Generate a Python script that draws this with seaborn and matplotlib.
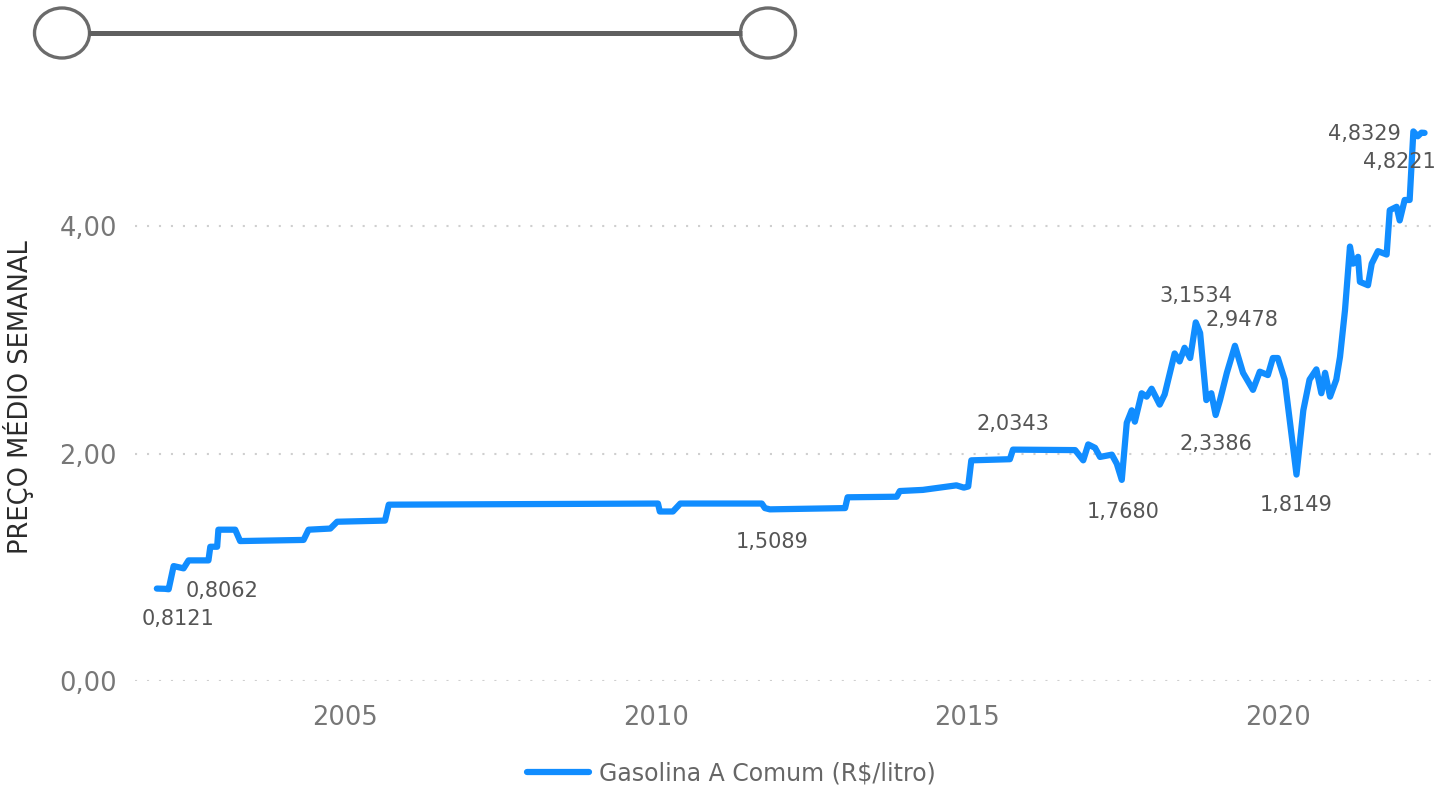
import pandas as pd
import seaborn as sns
import matplotlib.pyplot as plt
from matplotlib.patches import Ellipse

# Weekly average price of "Gasolina A Comum" (decimal year, R$/litro)
years = [
    2001.97, 2002.10, 2002.16, 2002.24, 2002.40, 2002.48, 2002.80, 2002.83, 2002.94,
    2002.96, 2003.23, 2003.31, 2004.33, 2004.41, 2004.76, 2004.87, 2005.64, 2005.70,
    2010.03, 2010.06, 2010.27, 2010.39, 2011.70, 2011.75, 2011.83, 2013.04, 2013.08,
    2013.87, 2013.92, 2014.29, 2014.83, 2014.95, 2015.02, 2015.07, 2015.69, 2015.74,
    2016.74, 2016.87, 2016.95, 2017.06, 2017.14, 2017.33, 2017.41, 2017.49,
    2017.57, 2017.65, 2017.70, 2017.81, 2017.89, 2017.97,
    2018.10, 2018.18, 2018.34, 2018.42, 2018.50, 2018.59, 2018.68, 2018.75, 2018.85, 2018.93,
    2019.00, 2019.07, 2019.18, 2019.31, 2019.44, 2019.60, 2019.71, 2019.84, 2019.92,
    2020.00, 2020.11, 2020.30, 2020.41, 2020.51, 2020.62, 2020.70, 2020.76, 2020.84, 2020.94,
    2021.00, 2021.08, 2021.16, 2021.21, 2021.29, 2021.32, 2021.45, 2021.51, 2021.61,
    2021.75, 2021.80, 2021.91, 2021.96,
    2022.04, 2022.12, 2022.18, 2022.25, 2022.31, 2022.36,
]
prices = [
    0.8121, 0.81, 0.8062, 1.01, 0.99, 1.06, 1.06, 1.18, 1.18,
    1.33, 1.33, 1.23, 1.24, 1.33, 1.34, 1.40, 1.41, 1.55,
    1.56, 1.49, 1.49, 1.56, 1.56, 1.52, 1.5089, 1.52, 1.615,
    1.62, 1.67, 1.68, 1.72, 1.70, 1.71, 1.94, 1.95, 2.0343,
    2.03, 1.94, 2.08, 2.05, 1.97, 1.99, 1.91, 1.7680,
    2.27, 2.38, 2.28, 2.53, 2.50, 2.57,
    2.43, 2.52, 2.88, 2.81, 2.93, 2.84, 3.1534, 3.06, 2.47, 2.53,
    2.3386, 2.47, 2.71, 2.9478, 2.71, 2.56, 2.72, 2.69, 2.84,
    2.84, 2.65, 1.8149, 2.38, 2.65, 2.74, 2.53, 2.71, 2.50, 2.65,
    2.85, 3.26, 3.82, 3.67, 3.73, 3.51, 3.48, 3.67, 3.78,
    3.75, 4.14, 4.17, 4.05,
    4.23, 4.23, 4.8329, 4.79, 4.8221, 4.82,
]

# data labels shown on the line, and where each one sits relative to its point (pixels)
label_values = [0.8121, 0.8062, 1.5089, 2.0343, 1.7680, 3.1534, 2.9478, 2.3386, 1.8149, 4.8329, 4.8221]
label_offsets = [(21, -30), (53, -2), (2, -33), (0, 26), (1, -32), (0, 26), (7, 26),
                 (0, -29), (0, -30), (-49, -3), (-22, -29)]

year_ticks = [2005, 2010, 2015, 2020]
price_ticks = [0, 2, 4]
series_name = "Gasolina A Comum (R$/litro)"

df = pd.DataFrame({"Ano": years, "Preco": prices})

sns.set_style("white")
plt.rcParams['font.family'] = ['DejaVu Sans']

fig = plt.figure(figsize=(14.37, 7.89), dpi=100)
ax = fig.add_axes([0.094, 0.137, 0.906, 0.7205])

sns.lineplot(data=df, x="Ano", y="Preco", ax=ax, color="#118DFF", linewidth=4.5,
             estimator=None, sort=False, label=series_name, solid_joinstyle="round")

ax.set_xlim(2001.62, 2022.56)
ax.set_ylim(0, 5)
ax.set_xticks(year_ticks)
ax.set_xticklabels([str(y) for y in year_ticks])
ax.set_yticks(price_ticks)
ax.set_yticklabels([f"{v:.2f}".replace(".", ",") for v in price_ticks])
ax.tick_params(axis="both", length=0, labelsize=18.5, labelcolor="#777777")
ax.tick_params(axis="y", pad=13)
ax.tick_params(axis="x", pad=17)
ax.yaxis.grid(True, color="#cfcfcf", linestyle=(0, (1, 4.75)), linewidth=1.5)
ax.xaxis.grid(False)
ax.set_xlabel("")
ax.set_ylabel("PREÇO MÉDIO SEMANAL", fontsize=18.5, color="#2b2b2b")
ax.yaxis.set_label_coords(-0.078, 0.5)
sns.despine(ax=ax, left=True, bottom=True)

# data labels
for v, (dx, dy) in zip(label_values, label_offsets):
    i = prices.index(v)
    ax.annotate(f"{v:.4f}".replace(".", ","), (years[i], prices[i]), xytext=(dx, dy),
                textcoords="offset pixels", ha="center", va="center",
                fontsize=15, color="#555555", annotation_clip=False)

# legend at the bottom
ax.get_legend().remove()
leg = ax.legend(loc="center", bbox_to_anchor=(0.509, 0.02), bbox_transform=fig.transFigure,
                frameon=False, fontsize=17, labelcolor="#666666",
                handlelength=2.63, handletextpad=0.45)

# range slider drawn above the chart
ov = fig.add_axes([0, 0, 1, 1])
ov.set_xlim(0, 1437)
ov.set_ylim(789, 0)
ov.axis("off")
ov.plot([88, 742], [33, 33], color="#606060", linewidth=3.6, solid_capstyle="butt")
for cx in [62, 768]:
    ov.add_patch(Ellipse((cx, 33), 55, 50, facecolor="white", edgecolor="#6b6b6b", linewidth=2.4))

fig.savefig("out.png", dpi=100)
